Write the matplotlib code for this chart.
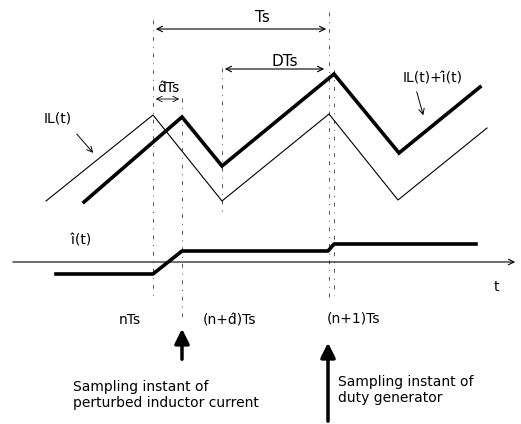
import matplotlib.pyplot as plt

# waveform vertices (pixel coordinates of the original figure)
thin_x = [46, 153, 222, 329, 398, 487]
thin_y = [201, 115, 201, 114, 200, 128]
thick_x = [84, 182, 222, 334, 399, 480]
thick_y = [202, 117, 166, 74, 153, 87]
step_x = [56, 153, 182, 328, 334, 476]
step_y = [274, 274, 251, 251, 244, 244]

# vertical guide lines: x, y_top, y_bottom
guide_x = [153, 182, 222, 329, 334]
guide_top = [20, 98, 68, 12, 70]
guide_bot = [300, 322, 215, 300, 295]

fig = plt.figure(figsize=(5.21, 4.24), dpi=100)
ax = fig.add_axes([0, 0, 1, 1])
ax.set_xlim(0, 521)
ax.set_ylim(424, 0)
ax.axis('off')

for gx, gt, gb in zip(guide_x, guide_top, guide_bot):
    ax.plot([gx, gx], [gt, gb], color='#555555', lw=0.7, ls=(0, (4, 6, 1, 6)))

ax.plot(thin_x, thin_y, color='black', lw=0.8)
ax.plot(thick_x, thick_y, color='black', lw=2.6, solid_joinstyle='miter')
ax.plot(step_x, step_y, color='black', lw=2.6)

# time axis
ax.annotate('', xy=(518, 262), xytext=(10, 262),
            arrowprops=dict(arrowstyle='->', lw=0.8, color='black'))
ax.text(496, 287, 't', fontsize=10, ha='center', va='center')

# period arrows
ax.annotate('', xy=(153, 29), xytext=(329, 29),
            arrowprops=dict(arrowstyle='<->', lw=0.8, color='black'))
ax.text(262, 17, 'Ts', fontsize=11, ha='center', va='center')
ax.annotate('', xy=(222, 69), xytext=(327, 69),
            arrowprops=dict(arrowstyle='<->', lw=0.8, color='black'))
ax.text(285, 61, 'DTs', fontsize=11, ha='center', va='center')
ax.annotate('', xy=(153, 99), xytext=(182, 99),
            arrowprops=dict(arrowstyle='<->', lw=0.6, color='black'))
ax.text(168, 88, 'd\u0302Ts', fontsize=10, ha='center', va='center')

# waveform labels
ax.text(58, 119, 'IL(t)', fontsize=10, ha='center', va='center')
ax.annotate('', xy=(95, 155), xytext=(75, 132),
            arrowprops=dict(arrowstyle='->', lw=0.7, color='black'))
ax.text(433, 78, 'IL(t)+i\u0302(t)', fontsize=10, ha='center', va='center')
ax.annotate('', xy=(424, 118), xytext=(416, 89),
            arrowprops=dict(arrowstyle='->', lw=0.7, color='black'))
ax.text(82, 240, 'i\u0302(t)', fontsize=10, ha='center', va='center')

# time instants
ax.text(130, 320, 'nTs', fontsize=10, ha='center', va='center')
ax.text(229, 320, '(n+d\u0302)Ts', fontsize=10, ha='center', va='center')
ax.text(353, 318, '(n+1)Ts', fontsize=10, ha='center', va='center')

# sampling arrows
ax.annotate('', xy=(182, 326), xytext=(182, 362),
            arrowprops=dict(arrowstyle='-|>', lw=2.5, color='black', mutation_scale=22))
ax.annotate('', xy=(328, 340), xytext=(328, 424),
            arrowprops=dict(arrowstyle='-|>', lw=2.5, color='black', mutation_scale=22))
ax.text(73, 395, 'Sampling instant of\nperturbed inductor current', fontsize=10,
        ha='left', va='center', linespacing=1.2)
ax.text(338, 390, 'Sampling instant of\nduty generator', fontsize=10,
        ha='left', va='center', linespacing=1.2)

fig.savefig('out.png', dpi=100)
